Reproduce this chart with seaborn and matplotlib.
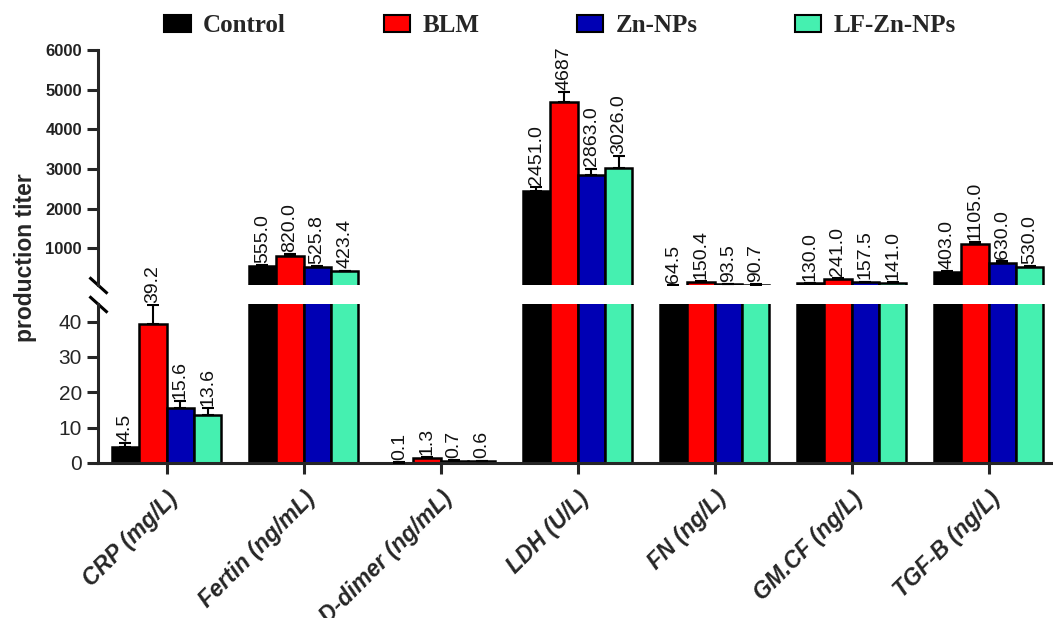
import numpy as np
import pandas as pd
import matplotlib
matplotlib.use("Agg")
import matplotlib.pyplot as plt
import matplotlib.transforms as mtransforms
from matplotlib.patches import Patch
import seaborn as sns

# ---------------- data ----------------
categories = ["CRP (mg/L)", "Fertin (ng/mL)", "D-dimer (ng/mL)", "LDH (U/L)",
              "FN (ng/L)", "GM.CF (ng/L)", "TGF-B (ng/L)"]
groups = ["Control", "BLM", "Zn-NPs", "LF-Zn-NPs"]

control = [4.5, 555.0, 0.1, 2451.0, 64.5, 130.0, 403.0]
blm = [39.2, 820.0, 1.3, 4687.0, 150.4, 241.0, 1105.0]
zn_nps = [15.6, 525.8, 0.7, 2863.0, 93.5, 157.5, 630.0]
lf_zn_nps = [13.6, 423.4, 0.6, 3026.0, 90.7, 141.0, 530.0]

control_err = [1.2, 30, 0.05, 100, 5, 10, 40]
blm_err = [5.5, 40, 0.3, 250, 20, 15, 60]
zn_nps_err = [2.0, 30, 0.1, 150, 5, 10, 60]
lf_zn_nps_err = [2.0, 20, 0.1, 300, 5, 10, 30]

control_lbl = ["4.5", "555.0", "0.1", "2451.0", "64.5", "130.0", "403.0"]
blm_lbl = ["39.2", "820.0", "1.3", "4687", "150.4", "241.0", "1105.0"]
zn_nps_lbl = ["15.6", "525.8", "0.7", "2863.0", "93.5", "157.5", "630.0"]
lf_zn_nps_lbl = ["13.6", "423.4", "0.6", "3026.0", "90.7", "141.0", "530.0"]

colors = ["#000000", "#FF0000", "#0000B4", "#45F0B0"]

series = [control, blm, zn_nps, lf_zn_nps]
errs = [control_err, blm_err, zn_nps_err, lf_zn_nps_err]
lbls = [control_lbl, blm_lbl, zn_nps_lbl, lf_zn_nps_lbl]

df = pd.DataFrame({
    "cat": np.tile(categories, len(groups)),
    "grp": np.repeat(groups, len(categories)),
    "val": np.concatenate(series),
})

# ---------------- style ----------------
sns.set_style("ticks")
plt.rcParams["font.family"] = ["Liberation Sans", "DejaVu Sans"]
plt.rcParams["axes.linewidth"] = 2.2

fig = plt.figure(figsize=(10.53, 6.18), dpi=100)
W, H = 1053, 618
x0, x1 = 98 / W, 1.0
ax_top = fig.add_axes([x0, 1 - 285 / H, x1 - x0, (285 - 50) / H])
ax_bot = fig.add_axes([x0, 1 - 463 / H, x1 - x0, (463 - 304) / H])

for ax in (ax_top, ax_bot):
    sns.barplot(data=df, x="cat", y="val", hue="grp", order=categories,
                hue_order=groups, palette=colors, saturation=1,
                edgecolor="black", linewidth=1.8, errorbar=None,
                width=0.8, legend=False, ax=ax)
    ax.set_xlim(-0.5, 6.47)
    ax.set_xlabel("")
    ax.set_ylabel("")
    sns.despine(ax=ax)

ax_top.set_ylim(80, 6000)
ax_bot.set_ylim(0, 45)

# error bars and value labels (top panel: values above the break)
for ax, lo, hi in ((ax_top, 45, 1e9), (ax_bot, -1, 45)):
    bar_conts = list(ax.containers)[:len(groups)]
    for gi, cont in enumerate(bar_conts):
        for ci, bar in enumerate(cont.patches):
            xc = bar.get_x() + bar.get_width() / 2
            v = series[gi][ci]
            e = errs[gi][ci]
            if ax is ax_top and v <= lo:
                continue
            ax.errorbar([xc], [v], yerr=[[0], [e]], fmt="none", ecolor="black",
                        elinewidth=1.5, capsize=4, capthick=1.5, zorder=3)
            if lo < v <= hi:
                ax.annotate(lbls[gi][ci], (xc, v + e), xytext=(0, 1.5),
                            textcoords="offset points", rotation=90,
                            ha="center", va="bottom", fontsize=14,
                            color="#111111", annotation_clip=False)

# top axes styling
ax_top.spines["bottom"].set_visible(False)
ax_top.tick_params(axis="x", bottom=False, labelbottom=False)
ax_top.set_yticks([1000, 2000, 3000, 4000, 5000, 6000])
ax_top.tick_params(axis="y", length=8, width=2.2, labelsize=12)
for t in ax_top.get_yticklabels():
    t.set_fontweight("bold")
    t.set_color("#222222")

# bottom axes styling
ax_bot.set_yticks([0, 10, 20, 30, 40])
ax_bot.tick_params(axis="y", length=8, width=2.2, labelsize=15)
ax_bot.tick_params(axis="x", length=8, width=2.2)
ax_bot.set_xticks(range(len(categories)))
ax_bot.set_xticklabels(categories, rotation=45, ha="right",
                       rotation_mode="anchor", fontsize=16.5,
                       fontweight="bold", fontstyle="italic")
offset = mtransforms.ScaledTranslation(0 / 100, -8 / 100, fig.dpi_scale_trans)
for t in ax_bot.get_xticklabels():
    t.set_transform(t.get_transform() + offset)

# break marks
kw = dict(marker=[(-1, 0.9), (1, -0.9)], markersize=13, linestyle="none",
          color="k", mec="k", mew=2.2, clip_on=False)
ax_top.plot([0], [0], transform=ax_top.transAxes, **kw)
ax_bot.plot([0], [1], transform=ax_bot.transAxes, **kw)

# y label
fig.text(26 / W, 1 - 258 / H, "production titer", rotation=90, ha="center",
         va="center", fontsize=16.5, fontweight="bold")

# legend
handles = [Patch(facecolor=c, edgecolor="black", linewidth=1.5) for c in colors]
fig.legend(handles, groups, loc="center", bbox_to_anchor=(0.532, 0.958),
           ncol=4, frameon=False, handlelength=1.05, handleheight=0.65,
           columnspacing=3.9, handletextpad=0.5,
           prop={"family": "Liberation Serif", "weight": "bold", "size": 18})

fig.savefig("out.png", dpi=100)
